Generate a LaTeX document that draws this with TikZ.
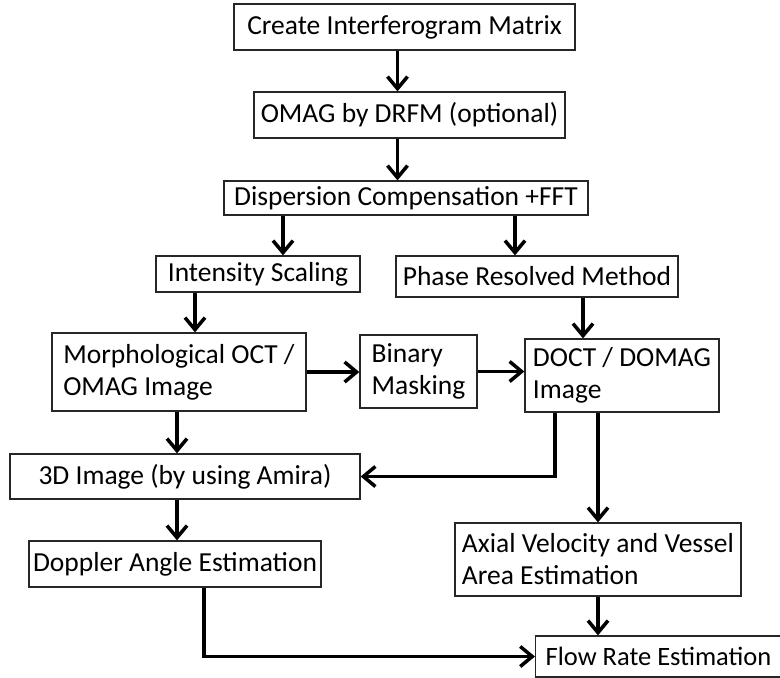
\documentclass[tikz,border=0pt]{standalone}
\usepackage{fontspec}
\setmainfont{Carlito}
\usetikzlibrary{positioning,arrows.meta}
\begin{document}
\begin{tikzpicture}[x=1pt,y=-1pt,line width=3.5pt,>={Straight Barb[length=12pt,width=20pt]},
    main/.style={draw=black!85, line width=1.3pt, inner sep=0pt, align=left, font=\fontsize{27.5}{32}\selectfont}]
            \clip (0,0) rectangle (780,678);
            \node[main, minimum width=341, minimum height=46] (0) at (404.5,27) {Create Interferogram Matrix};
            \node[main, minimum width=311, minimum height=46] (1) at (409.5,115) {OMAG by DRFM (optional)};
            \node[main, minimum width=364, minimum height=34] (2) at (406,198) {Dispersion Compensation +FFT};
            \node[main, minimum width=204, minimum height=36] (3) at (258,274) {Intensity Scaling};
            \node[main, minimum width=282, minimum height=41] (4) at (537,276.5) {Phase Resolved Method};
            \node[main, minimum width=254, minimum height=78] (5) at (179,372) {Morphological OCT /\\OMAG Image};
            \node[main, minimum width=117, minimum height=73] (6) at (418.5,371.5) {Binary\\Masking};
            \node[main, minimum width=194, minimum height=73] (7) at (622,375.5) {DOCT / DOMAG\\Image};
            \node[main, minimum width=350, minimum height=45] (8) at (185,476.5) {3D Image (by using Amira)};
            \node[main, minimum width=292, minimum height=46] (9) at (175,564) {Doppler Angle Estimation};
            \node[main, minimum width=286, minimum height=73] (10) at (598,559.5) {Axial Velocity and Vessel\\Area Estimation};
            \node[main, anchor=west, minimum height=41, inner xsep=10pt, font=\fontsize{26.5}{32}\selectfont] (11) at (535,656.5) {Flow Rate Estimation};

            \draw[->] ([xshift=-7pt]0.south) -- ([xshift=-7pt]0.south |- 1.north);
            \draw[->] ([xshift=-12pt]1.south) -- ([xshift=-12pt]1.south |- 2.north);
            \draw[->] ([xshift=25pt]3.north |- 2.south) -- ([xshift=25pt]3.north);
            \draw[->] ([xshift=-22pt]4.north |- 2.south) -- ([xshift=-22pt]4.north);
            \draw[->] ([xshift=16pt]5.north |- 3.south) -- ([xshift=16pt]5.north);
            \draw[->] ([xshift=-39pt]7.north |- 4.south) -- ([xshift=-39pt]7.north);
            \draw[->] (5.east) -- (5.east -| 6.west);
            \draw[->] (6.east) -- (6.east -| 7.west);
            \draw[->] ([xshift=-2pt]5.south) -- ([xshift=-2pt]5.south |- 8.north);
            \draw[->] ([xshift=-67pt]7.south) |- (8.east);
            \draw[->] (10.north |- 7.south) -- (10.north);
            \draw[->] ([xshift=-8pt]8.south) -- ([xshift=-8pt]8.south |- 9.north);
            \draw[->] ([xshift=29pt]9.south) |- (11.west);
            \draw[->] (10.south) -- (10.south |- 11.north);
\end{tikzpicture}
\end{document}
